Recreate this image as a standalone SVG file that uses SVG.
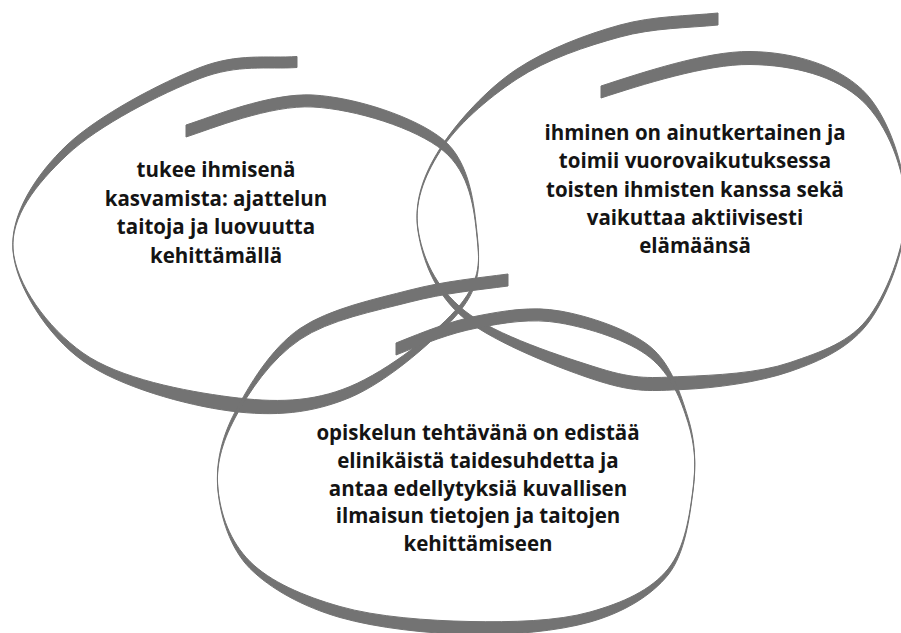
<svg xmlns="http://www.w3.org/2000/svg" width="901" height="633" viewBox="0 0 901 633">
<style>
.ring{fill:#737373;stroke:#737373;stroke-width:1;stroke-linejoin:round}
.lbl{font-family:"Open Sans","Liberation Sans",sans-serif;font-weight:700;font-size:20.5px;fill:#141414;text-anchor:middle}
</style>
<rect width="901" height="633" fill="#ffffff"/>
<g id="node-left">
<path class="ring" d="M186,125 C211,117 270.2,92.7 313,95 C355.8,97.3 415.7,117.2 443,139.5 C470.3,161.8 474.2,205.8 477,233 C479.8,260.2 481.2,278.8 460,305 C438.8,331.2 388.3,370.5 350,386.5 C311.7,402.5 274.5,402.8 230,397 C185.5,391.2 119.2,378.7 83,353 C46.8,327.3 15.7,283.5 13,249 C10.3,214.5 35.8,174.5 67,145 C98.2,115.5 161.7,82.2 200,67.5 C238.3,52.8 267,58.5 297,56.5 L297,67.5 C267,69.5 238.3,63.8 200,78.5 C161.7,93.2 98.2,125.5 67,155 C35.8,184.5 10.3,216.5 13,251 C15.7,285.5 46.8,335.3 83,361 C119.2,386.7 185.5,405.2 230,411 C274.5,416.8 311.7,413.5 350,397.5 C388.3,381.5 438.8,337.2 460,311 C481.2,284.8 479.8,264.2 477,237 C474.2,209.8 470.3,172.8 443,150.5 C415.7,128.2 355.8,109.3 313,107 C270.2,104.7 211,129 186,137 Z"/>
<text class="lbl" x="216" y="177">tukee ihmisenä</text>
<text class="lbl" x="216" y="206">kasvamista: ajattelun</text>
<text class="lbl" x="216" y="234">taitoja ja luovuutta</text>
<text class="lbl" x="216" y="263">kehittämällä</text>
</g>
<g id="node-right">
<path class="ring" d="M601,86 C641,73 706.5,51 750,51.5 C793.5,52 836,65 862,89.5 C888,114 904.7,165.8 906,203 C907.3,240.2 889.3,288.5 870,315.5 C850.7,342.5 821.2,351.7 790,362.5 C758.8,373.3 714.7,375.2 683,376.5 C651.3,377.8 636.3,379.8 600,368.5 C563.7,357.2 495.3,335.2 465,311 C434.7,286.8 422.2,256.5 418,229 C413.8,201.5 423.5,174.5 440,148.5 C456.5,122.5 487,88.8 517,69 C547,49.2 586.5,34.2 620,25 C653.5,15.8 688,16 718,13 L718,25 C688,28 653.5,27.8 620,37 C586.5,46.2 547,59.2 517,79 C487,98.8 456.5,125.5 440,151.5 C423.5,177.5 413.8,203.5 418,231 C422.2,258.5 434.7,294.8 465,319 C495.3,343.2 563.7,370.2 600,381.5 C636.3,392.8 651.3,390.8 683,389.5 C714.7,388.2 758.8,382.3 790,371.5 C821.2,360.7 850.7,347.5 870,320.5 C889.3,293.5 907.3,244.2 906,207 C904.7,169.8 888,125 862,100.5 C836,76 793.5,65 750,64.5 C706.5,64 641,85 601,98 Z"/>
<text class="lbl" x="695" y="140">ihminen on ainutkertainen ja</text>
<text class="lbl" x="695" y="168">toimii vuorovaikutuksessa</text>
<text class="lbl" x="695" y="197">toisten ihmisten kanssa sekä</text>
<text class="lbl" x="695" y="225">vaikuttaa aktiivisesti</text>
<text class="lbl" x="695" y="253">elämäänsä</text>
</g>
<g id="node-bottom">
<path class="ring" d="M396,343 C426,331 449.7,321.3 477,316 C504.3,310.7 531.2,306 560,311 C588.8,316 628.7,329.3 650,346.5 C671.3,363.7 680.8,394.5 688,417.5 C695.2,440.5 696.3,463.7 693,489 C689.7,514.3 685.2,547.8 668,569 C650.8,590.2 623,602.7 590,612 C557,621.3 511.7,622.3 470,621.5 C428.3,620.7 376.7,617 340,606.5 C303.3,596 270.3,581.8 250,561.5 C229.7,541.2 220.5,514 218,489 C215.5,464 221.3,438 235,412 C248.7,386 270.8,348.3 300,328.5 C329.2,308.7 375.3,299 410,290 C444.7,281 478,278 508,274 L508,286 C478,290 444.7,293 410,302 C375.3,311 329.2,319.7 300,339.5 C270.8,359.3 248.7,392 235,418 C221.3,444 215.5,466 218,491 C220.5,516 229.7,548.2 250,568.5 C270.3,588.8 303.3,607 340,617.5 C376.7,628 428.3,633.7 470,634.5 C511.7,635.3 557,631.3 590,622 C623,612.7 650.8,596.2 668,575 C685.2,553.8 689.7,516.3 693,491 C696.3,465.7 695.2,445.5 688,422.5 C680.8,399.5 671.3,374.7 650,357.5 C628.7,340.3 588.8,328 560,323 C531.2,318 504.3,322.7 477,328 C449.7,333.3 426,343 396,355 Z"/>
<text class="lbl" x="478" y="440">opiskelun tehtävänä on edistää</text>
<text class="lbl" x="478" y="468">elinikäistä taidesuhdetta ja</text>
<text class="lbl" x="478" y="496">antaa edellytyksiä kuvallisen</text>
<text class="lbl" x="478" y="523">ilmaisun tietojen ja taitojen</text>
<text class="lbl" x="478" y="551">kehittämiseen</text>
</g>
</svg>
